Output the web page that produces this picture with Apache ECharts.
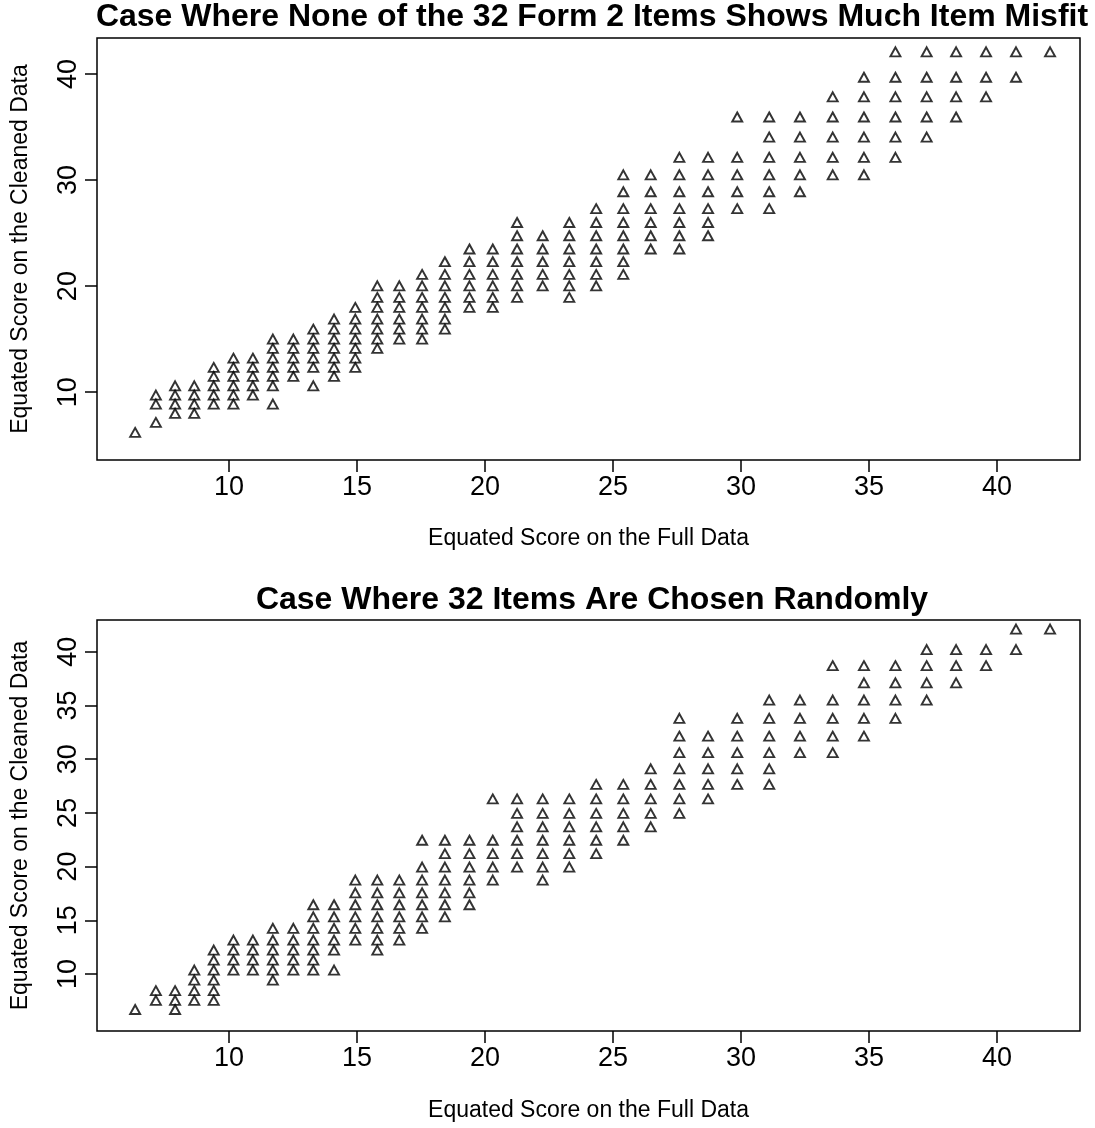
<!DOCTYPE html>
<html>
<head>
<meta charset="utf-8">
<script src="https://cdn.jsdelivr.net/npm/echarts@6/dist/echarts.min.js"></script>
<style>
html, body { margin: 0; padding: 0; background: #fff; }
#chart { width: 1095px; height: 1128px; }
</style>
</head>
<body>
<div id="chart"></div>
<script>
// equated score on the full data (one column of points per score)
var fullScores = [6.33, 7.14, 7.89, 8.64, 9.4, 10.17, 10.93, 11.71, 12.51, 13.29, 14.1, 14.93,
    15.79, 16.65, 17.54, 18.43, 19.39, 20.3, 21.25, 22.25, 23.29, 24.34, 25.4, 26.47, 27.59,
    28.71, 29.85, 31.1, 32.3, 33.58, 34.8, 36.03, 37.25, 38.4, 39.57, 40.74, 42.07];

// cleaned-data scores seen in each column, top panel (no misfit items)
var misfitCleaned = [
    [6.2],
    [7.14, 8.87, 9.72],
    [8.0, 8.87, 9.72, 10.6],
    [8.0, 8.87, 9.72, 10.6],
    [8.87, 9.72, 10.6, 11.48, 12.33],
    [8.87, 9.72, 10.6, 11.48, 12.33, 13.2],
    [9.72, 10.6, 11.48, 12.33, 13.2],
    [8.87, 10.6, 11.48, 12.33, 13.2, 14.12, 15.0],
    [11.48, 12.33, 13.2, 14.12, 15.0],
    [10.6, 12.33, 13.2, 14.12, 15.0, 15.94],
    [11.48, 12.33, 13.2, 14.12, 15.0, 15.94, 16.89],
    [12.33, 13.2, 14.12, 15.0, 15.94, 16.89, 17.99],
    [14.12, 15.0, 15.94, 16.89, 17.99, 18.93, 20.03],
    [15.0, 15.94, 16.89, 17.99, 18.93, 20.03],
    [15.0, 15.94, 16.89, 17.99, 18.93, 20.03, 21.1],
    [15.94, 16.89, 17.99, 18.93, 20.03, 21.1, 22.3],
    [17.99, 18.93, 20.03, 21.1, 22.3, 23.5],
    [17.99, 18.93, 20.03, 21.1, 22.3, 23.5],
    [18.93, 20.03, 21.1, 22.3, 23.5, 24.75, 26.0],
    [20.03, 21.1, 22.3, 23.5, 24.75],
    [18.93, 20.03, 21.1, 22.3, 23.5, 24.75, 26.0],
    [20.03, 21.1, 22.3, 23.5, 24.75, 26.0, 27.3],
    [21.1, 22.3, 23.5, 24.75, 26.0, 27.3, 28.9, 30.5],
    [23.5, 24.75, 26.0, 27.3, 28.9, 30.5],
    [23.5, 24.75, 26.0, 27.3, 28.9, 30.5, 32.15],
    [24.75, 26.0, 27.3, 28.9, 30.5, 32.15],
    [27.3, 28.9, 30.5, 32.15, 35.95],
    [27.3, 28.9, 30.5, 32.15, 34.05, 35.95],
    [28.9, 30.5, 32.15, 34.05, 35.95],
    [30.5, 32.15, 34.05, 35.95, 37.85],
    [30.5, 32.15, 34.05, 35.95, 37.85, 39.7],
    [32.15, 34.05, 35.95, 37.85, 39.7, 42.1],
    [34.05, 35.95, 37.85, 39.7, 42.1],
    [35.95, 37.85, 39.7, 42.1],
    [37.85, 39.7, 42.1],
    [39.7, 42.1],
    [42.1]
];

// cleaned-data scores per column, bottom panel (32 random items)
var randomCleaned = [
    [6.7],
    [7.55, 8.45],
    [6.7, 7.55, 8.45],
    [7.55, 8.45, 9.44, 10.37],
    [7.55, 8.45, 9.44, 10.37, 11.3, 12.23],
    [10.37, 11.3, 12.23, 13.16],
    [10.37, 11.3, 12.23, 13.16],
    [9.44, 10.37, 11.3, 12.23, 13.16, 14.25],
    [10.37, 11.3, 12.23, 13.16, 14.25],
    [10.37, 11.3, 12.23, 13.16, 14.25, 15.33, 16.45],
    [10.37, 12.23, 13.16, 14.25, 15.33, 16.45],
    [13.16, 14.25, 15.33, 16.45, 17.56, 18.74],
    [12.23, 13.16, 14.25, 15.33, 16.45, 17.56, 18.74],
    [13.16, 14.25, 15.33, 16.45, 17.56, 18.74],
    [14.25, 15.33, 16.45, 17.56, 18.74, 19.95, 22.45],
    [15.33, 16.45, 17.56, 18.74, 19.95, 21.2, 22.45],
    [16.45, 17.56, 18.74, 19.95, 21.2, 22.45],
    [18.74, 19.95, 21.2, 22.45, 26.3],
    [19.95, 21.2, 22.45, 23.7, 24.95, 26.3],
    [18.74, 19.95, 21.2, 22.45, 23.7, 24.95, 26.3],
    [19.95, 21.2, 22.45, 23.7, 24.95, 26.3],
    [21.2, 22.45, 23.7, 24.95, 26.3, 27.65],
    [22.45, 23.7, 24.95, 26.3, 27.65],
    [23.7, 24.95, 26.3, 27.65, 29.1],
    [24.95, 26.3, 27.65, 29.1, 30.6, 32.14, 33.8],
    [26.3, 27.65, 29.1, 30.6, 32.14],
    [27.65, 29.1, 30.6, 32.14, 33.8],
    [27.65, 29.1, 30.6, 32.14, 33.8, 35.5],
    [30.6, 32.14, 33.8, 35.5],
    [30.6, 32.14, 33.8, 35.5, 38.7],
    [32.14, 33.8, 35.5, 37.1, 38.7],
    [33.8, 35.5, 37.1, 38.7],
    [35.5, 37.1, 38.7, 40.2],
    [37.1, 38.7, 40.2],
    [38.7, 40.2],
    [40.2, 42.1],
    [42.1]
];

var xTicks = [10, 15, 20, 25, 30, 35, 40];
var topYTicks = [10, 20, 30, 40];
var bottomYTicks = [10, 15, 20, 25, 30, 35, 40];

var titles = [
    'Case Where None of the 32 Form 2 Items Shows Much Item Misfit',
    'Case Where 32 Items Are Chosen Randomly'
];
var xName = 'Equated Score on the Full Data';
var yName = 'Equated Score on the Cleaned Data';

var font = '"Liberation Sans", Arial, Helvetica, sans-serif';

function toPairs(columns) {
    var pairs = [];
    for (var i = 0; i < columns.length; i++) {
        for (let y of columns[i]) {
            pairs.push([fullScores[i], y]);
        }
    }
    return pairs;
}

function makeXAxis(gridIndex, gap) {
    return {
        type: 'value',
        gridIndex: gridIndex,
        min: 4.84,
        max: 43.24,
        axisLine: { show: false },
        splitLine: { show: false },
        axisTick: {
            show: true, inside: false, length: 12,
            customValues: xTicks,
            lineStyle: { color: '#000', width: 1.5 }
        },
        axisLabel: {
            customValues: xTicks,
            color: '#000', fontSize: 27, fontFamily: font, margin: 14
        },
        name: xName,
        nameLocation: 'middle',
        nameGap: gap,
        nameTextStyle: { color: '#000', fontSize: 23, fontFamily: font }
    };
}

function makeYAxis(gridIndex, min, max, ticks) {
    return {
        type: 'value',
        gridIndex: gridIndex,
        min: min,
        max: max,
        axisLine: { show: false },
        splitLine: { show: false },
        axisTick: {
            show: true, inside: false, length: 12,
            customValues: ticks,
            lineStyle: { color: '#000', width: 1.5 }
        },
        axisLabel: {
            customValues: ticks,
            rotate: 90,
            color: '#000', fontSize: 27, fontFamily: font, margin: 15
        },
        name: yName,
        nameLocation: 'middle',
        nameGap: 65,
        nameTextStyle: { color: '#000', fontSize: 23, fontFamily: font }
    };
}

function makeSeries(index, columns) {
    return {
        type: 'scatter',
        xAxisIndex: index,
        yAxisIndex: index,
        symbol: 'triangle',
        symbolSize: [10, 9],
        itemStyle: { color: 'transparent', borderColor: '#000', borderWidth: 1.9 },
        emphasis: { disabled: true },
        data: toPairs(columns)
    };
}

var chart = echarts.init(document.getElementById('chart'));
var option = {
    animation: false,
    backgroundColor: '#fff',
    title: [
        {
            text: titles[0], left: 592, top: 1, padding: 0, textAlign: 'center',
            textStyle: { fontSize: 32, fontWeight: 'bold', color: '#000', fontFamily: font }
        },
        {
            text: titles[1], left: 592, top: 584, padding: 0, textAlign: 'center',
            textStyle: { fontSize: 32, fontWeight: 'bold', color: '#000', fontFamily: font }
        }
    ],
    grid: [
        { left: 97, top: 38, width: 983, height: 422, show: true, borderColor: '#000', borderWidth: 1.5 },
        { left: 97, top: 620, width: 983, height: 411, show: true, borderColor: '#000', borderWidth: 1.5 }
    ],
    xAxis: [makeXAxis(0, 67), makeXAxis(1, 68)],
    yAxis: [
        makeYAxis(0, 3.6, 43.4, topYTicks),
        makeYAxis(1, 4.7, 42.95, bottomYTicks)
    ],
    series: [makeSeries(0, misfitCleaned), makeSeries(1, randomCleaned)]
};
chart.setOption(option);
</script>
</body>
</html>
